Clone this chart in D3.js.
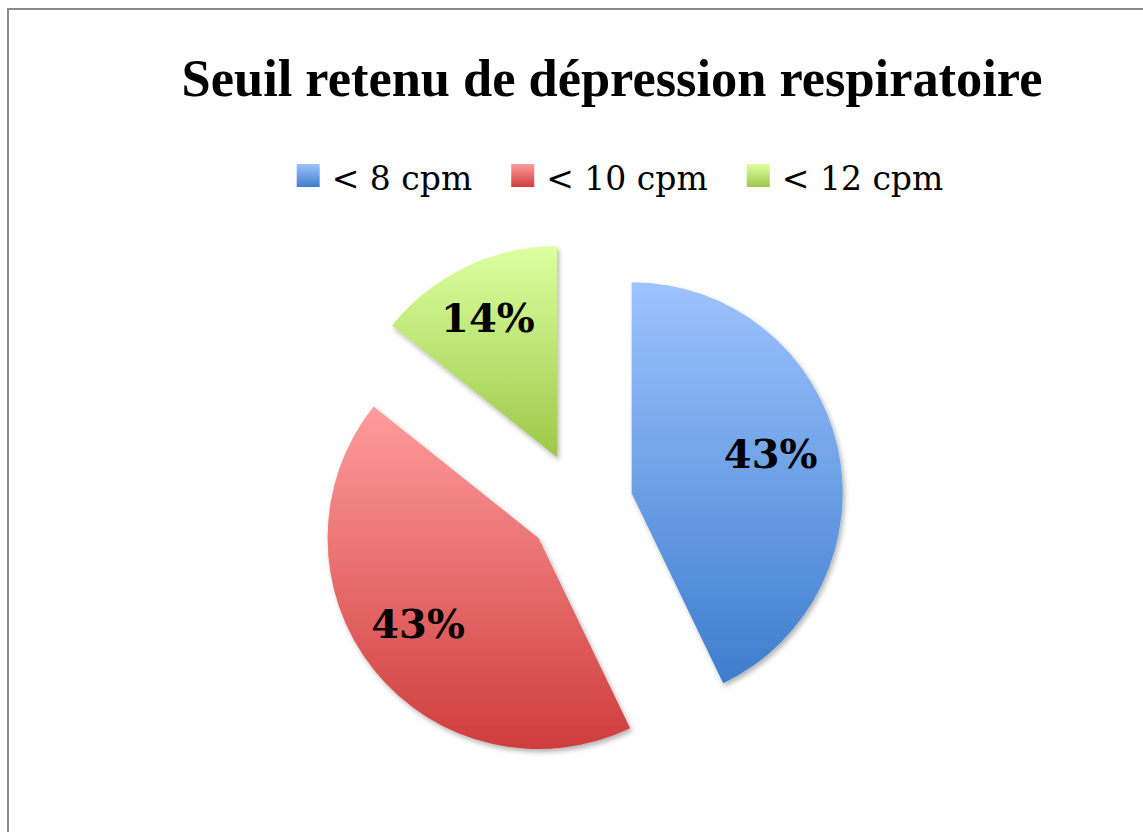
<!DOCTYPE html>
<html>
<head>
<meta charset="utf-8">
<script src="https://cdn.jsdelivr.net/npm/d3@7"></script>
<style>
  body { margin: 0; background: #fff; }
  svg { display: block; }
</style>
</head>
<body>
<svg id="chart" width="1143" height="832"></svg>
<script>
// ----- //
// data
// ----- //
const categories = ["< 8 cpm", "< 10 cpm", "< 12 cpm"];
const values = [3, 3, 1];   // 43% / 43% / 14%
const labels = ["43%", "43%", "14%"];
// gradient colours, top -> bottom
const topColors = ["#9dc3ff", "#ff9c9c", "#ddffa0"];
const bottomColors = ["#3d7dcd", "#cf3d3d", "#9bc948"];

// ----- //
// layout
// ----- //
const width = 1143, height = 832;
const cx = 580, cy = 505;      // centre of the unexploded pie
const radius = 211;
const explode = 53;            // distance each slice is pulled out
const labelRatio = 0.7;
const serif = "'DejaVu Serif', 'Liberation Serif', serif";

const svg = d3.select("#chart");

// defs: gradients + shadow
const defs = svg.append("defs");
categories.forEach((c, i) => {
    const g = defs.append("linearGradient")
        .attr("id", "grad" + i)
        .attr("x1", 0).attr("y1", 0).attr("x2", 0).attr("y2", 1);
    g.append("stop").attr("offset", "0%").attr("stop-color", topColors[i]);
    g.append("stop").attr("offset", "100%").attr("stop-color", bottomColors[i]);
});
const shadow = defs.append("filter").attr("id", "shadow")
    .attr("x", "-10%").attr("y", "-10%").attr("width", "130%").attr("height", "130%");
shadow.append("feDropShadow")
    .attr("dx", 2).attr("dy", 3).attr("stdDeviation", 2.5)
    .attr("flood-color", "#000").attr("flood-opacity", 0.3);

// frame
svg.append("rect")
    .attr("x", 8).attr("y", 9)
    .attr("width", width + 20).attr("height", height + 20)
    .attr("fill", "none")
    .attr("stroke", "#8a8a8a")
    .attr("stroke-width", 2);

// title, sized to span the same width as the original
const title = svg.append("text")
    .attr("x", 612).attr("y", 96)
    .attr("text-anchor", "middle")
    .style("font-family", "'Liberation Serif', serif")
    .style("font-weight", "bold")
    .style("font-size", "50px")
    .text("Seuil retenu de dépression respiratoire");
const tw = title.node().getComputedTextLength();
title.style("font-size", (50 * 861 / tw) + "px");

// legend
const legend = svg.append("g");
const items = legend.selectAll("g.item")
    .data(categories)
    .enter().append("g")
    .attr("class", "item");
items.append("rect")
    .attr("width", 23).attr("height", 23)
    .attr("y", 164)
    .attr("fill", (d, i) => `url(#grad${i})`);
items.append("text")
    .attr("y", 190)
    .attr("x", 35)
    .style("font-family", serif)
    .style("font-size", "33px")
    .text(d => d);
// position legend items horizontally, centred
let lx = 0;
const gap = 39;
const offsets = [];
items.each(function () {
    const w = 35 + d3.select(this).select("text").node().getComputedTextLength();
    offsets.push(lx);
    lx += w + gap;
});
const legendWidth = lx - gap;
const legendStart = 620 - legendWidth / 2;
items.attr("transform", (d, i) => `translate(${legendStart + offsets[i]},0)`);

// ----- //
// pie
// ----- //
const pie = d3.pie().sort(null).value(d => d);
const arcs = pie(values);
const arc = d3.arc().innerRadius(0).outerRadius(radius);

const slices = svg.append("g")
    .attr("transform", `translate(${cx},${cy})`)
    .selectAll("g.slice")
    .data(arcs)
    .enter().append("g")
    .attr("class", "slice")
    .attr("transform", d => {
        const a = (d.startAngle + d.endAngle) / 2;
        return `translate(${explode * Math.sin(a)},${-explode * Math.cos(a)})`;
    });

slices.append("path")
    .attr("d", arc)
    .attr("fill", (d, i) => `url(#grad${i})`)
    .attr("filter", "url(#shadow)");

// percentage labels (slightly up-left of the bisector point, as in the original)
slices.append("text")
    .attr("x", d => labelRatio * radius * Math.sin((d.startAngle + d.endAngle) / 2) - 5)
    .attr("y", d => -labelRatio * radius * Math.cos((d.startAngle + d.endAngle) / 2))
    .attr("dy", "0.2em")
    .attr("text-anchor", "middle")
    .style("font-family", serif)
    .style("font-weight", "bold")
    .style("font-size", "40px")
    .text((d, i) => labels[i]);
</script>
</body>
</html>
